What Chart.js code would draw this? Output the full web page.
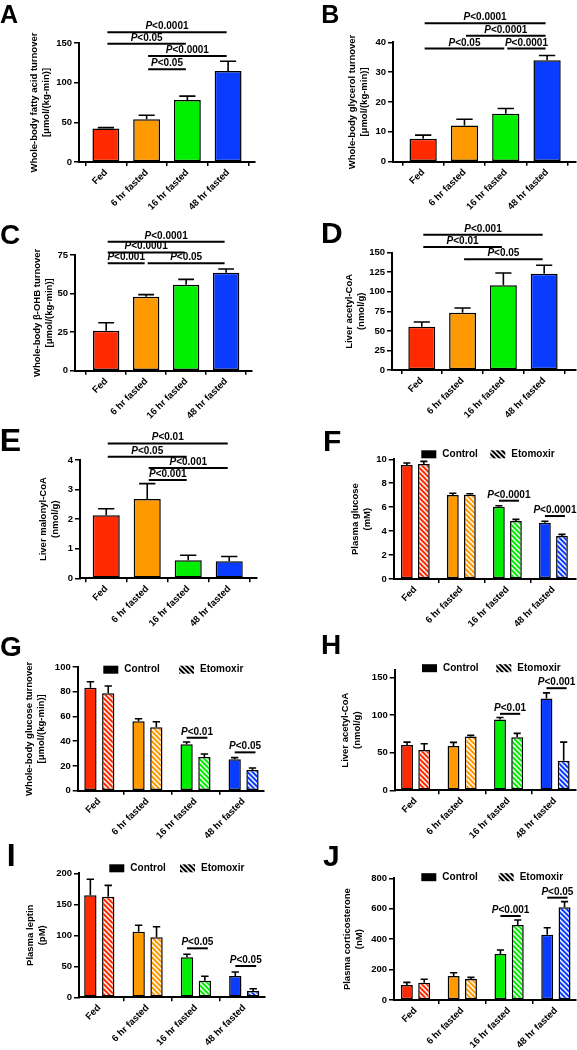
<!DOCTYPE html>
<html>
<head>
<meta charset="utf-8">
<script src="https://cdn.jsdelivr.net/npm/chart.js@4.4.0/dist/chart.umd.min.js"></script>
<style>
body { margin: 0; width: 577px; height: 1050px; position: relative; overflow: hidden; background: #fff; font-family: 'Liberation Sans', Arial, sans-serif; }
canvas { position: absolute; }
.panel-letter { position: absolute; font-weight: bold; line-height: 1; color: #000; }
</style>
</head>
<body>
<script>
const groups = ['Fed', '6 hr fasted', '16 hr fasted', '48 hr fasted'];
const groupColors = ['#ff2a00', '#ff9900', '#00ee00', '#0a3cff'];
const seriesNames = ['Control', 'Etomoxir'];

// A - fatty acid turnover
const faTurnover = [42.3, 53.8, 78.0, 114.7];
const faTurnoverSem = [1.0, 5.2, 5.0, 12.3];
const faTurnoverP = [[0, 3, 163.5, 'P<0.0001'], [0, 2, 149, 'P<0.05'], [1, 3, 133.6, 'P<0.0001'], [1, 2, 116.8, 'P<0.05']];

// B - glycerol turnover
const glycerolTurnover = [7.7, 12.1, 16.1, 34.0];
const glycerolTurnoverSem = [1.2, 2.1, 1.7, 1.6];
const glycerolTurnoverP = [[0, 3, 46.4, 'P<0.0001'], [1, 3, 42.2, 'P<0.0001'], [0, 2, 37.9, 'P<0.05'], [2, 3, 37.9, 'P<0.0001']];

// C - beta-OHB turnover
const bohbTurnover = [25.9, 48.0, 55.7, 63.5];
const bohbTurnoverSem = [5.2, 1.3, 3.5, 2.4];
const bohbTurnoverP = [[0, 3, 83.6, 'P<0.0001'], [0, 2, 76.7, 'P<0.0001'], [0, 1, 69.6, 'P<0.001'], [1, 3, 69.6, 'P<0.05']];

// D - liver acetyl-CoA
const acetylCoA = [55.4, 73.3, 108.3, 123.2];
const acetylCoASem = [6.0, 6.0, 15.7, 10.7];
const acetylCoAP = [[0, 3, 173, 'P<0.001'], [0, 2, 157.3, 'P<0.01'], [1, 3, 141.6, 'P<0.05']];

// E - liver malonyl-CoA
const malonylCoA = [2.13, 2.68, 0.61, 0.575];
const malonylCoASem = [0.22, 0.52, 0.17, 0.16];
const malonylCoAP = [[0, 3, 4.56, 'P<0.01'], [0, 2, 4.11, 'P<0.05'], [1, 3, 3.73, 'P<0.001'], [1, 2, 3.32, 'P<0.001']];

// F - plasma glucose
const glucoseCtrl = [9.52, 7.02, 6.04, 4.70];
const glucoseCtrlSem = [0.17, 0.14, 0.08, 0.12];
const glucoseEto = [9.60, 7.04, 4.85, 3.59];
const glucoseEtoSem = [0.23, 0.08, 0.13, 0.14];
const glucoseP = [[2, 6.54, 'P<0.0001'], [3, 5.26, 'P<0.0001']];

// G - glucose turnover
const glcTurnCtrl = [83.3, 56.1, 37.5, 25.4];
const glcTurnCtrlSem = [4.8, 2.1, 1.9, 1.3];
const glcTurnEto = [78.7, 51.3, 27.2, 16.7];
const glcTurnEtoSem = [5.9, 4.5, 2.5, 1.7];
const glcTurnP = [[2, 42.8, 'P<0.01'], [3, 31, 'P<0.05']];

// H - liver acetyl-CoA with etomoxir
const acCoACtrl = [60.1, 58.8, 94.2, 122.1];
const acCoACtrlSem = [4.0, 4.9, 2.7, 7.5];
const acCoAEto = [53.5, 71.7, 70.4, 39.3];
const acCoAEtoSem = [8.4, 1.3, 5.3, 24.8];
const acCoAP = [[2, 101.7, 'P<0.01'], [3, 135.8, 'P<0.001']];

// I - plasma leptin
const leptinCtrl = [164.5, 105.8, 64.5, 34.4];
const leptinCtrlSem = [25.8, 10.3, 4.9, 6.4];
const leptinEto = [162.3, 96.8, 26.8, 10.2];
const leptinEtoSem = [18.3, 17.1, 7.1, 3.7];
const leptinP = [[2, 79, 'P<0.05'], [3, 50.5, 'P<0.05']];

// J - plasma corticosterone
const corticoCtrl = [98.6, 157.8, 302.4, 429.4];
const corticoCtrlSem = [17.4, 21.7, 26.3, 46.0];
const corticoEto = [114, 138, 493, 609.4];
const corticoEtoSem = [22, 11, 33, 37];
const corticoP = [[2, 552, 'P<0.001'], [3, 672.6, 'P<0.05']];

const FONT = "'Liberation Sans', Arial, sans-serif";
Chart.defaults.font.family = FONT;
Chart.defaults.font.weight = 'bold';
Chart.defaults.color = '#000';
Chart.defaults.animation = false;

// white diagonal stripes over a colour
function hatch(color) {
    const s = 5;
    const tile = document.createElement('canvas');
    tile.width = s; tile.height = s;
    const c = tile.getContext('2d');
    c.fillStyle = color;
    c.fillRect(0, 0, s, s);
    c.strokeStyle = '#fff';
    c.lineWidth = 1.5;
    for (let k = -1; k <= 1; k++) {
        c.beginPath();
        c.moveTo(-1, -1 + k * s);
        c.lineTo(s + 1, s + 1 + k * s);
        c.stroke();
    }
    return c.createPattern(tile, 'repeat');
}
const blackHatch = hatch('#000');

const errorBars = {
    id: 'errorBars',
    afterDatasetsDraw(chart) {
        const ctx = chart.ctx, y = chart.scales.y;
        ctx.save();
        ctx.strokeStyle = '#000';
        ctx.lineWidth = 1.6;
        chart.data.datasets.forEach((ds, di) => {
            chart.getDatasetMeta(di).data.forEach((bar, i) => {
                const top = y.getPixelForValue(ds.data[i].y + ds.sem[i]);
                const half = bar.width * 0.3;
                ctx.beginPath();
                ctx.moveTo(bar.x, bar.y);
                ctx.lineTo(bar.x, top);
                ctx.moveTo(bar.x - half, top);
                ctx.lineTo(bar.x + half, top);
                ctx.stroke();
            });
        });
        ctx.restore();
    }
};

const sigBars = {
    id: 'sigBars',
    afterDraw(chart, args, opts) {
        const items = opts.items || [];
        const ctx = chart.ctx, x = chart.scales.x, y = chart.scales.y;
        ctx.save();
        ctx.strokeStyle = '#000';
        ctx.fillStyle = '#000';
        ctx.lineWidth = 2;
        items.forEach(it => {
            let x1, x2, level, label;
            if (opts.paired) {
                [, level, label] = it;
                x1 = chart.getDatasetMeta(0).data[it[0]].x;
                x2 = chart.getDatasetMeta(1).data[it[0]].x + 3;
            } else {
                [, , level, label] = it;
                x1 = x.getPixelForValue(it[0]) + 1.5;
                x2 = x.getPixelForValue(it[1]) - 1.5;
            }
            const py = y.getPixelForValue(level);
            ctx.beginPath();
            ctx.moveTo(x1, py);
            ctx.lineTo(x2, py);
            ctx.stroke();
            ctx.textBaseline = 'alphabetic';
            ctx.textAlign = 'left';
            ctx.font = 'italic bold 10px ' + FONT;
            const wP = ctx.measureText('P').width;
            ctx.font = 'bold 10px ' + FONT;
            const rest = label.slice(1);
            const wR = ctx.measureText(rest).width;
            const sx = (x1 + x2) / 2 - (wP + wR) / 2;
            ctx.fillText(rest, sx + wP, py - 3);
            ctx.font = 'italic bold 10px ' + FONT;
            ctx.fillText('P', sx, py - 3);
        });
        ctx.restore();
    }
};

const pairLegend = {
    id: 'pairLegend',
    afterDraw(chart, args, opts) {
        if (!opts.xs) return;
        const ctx = chart.ctx, a = chart.chartArea;
        const cy = a.top + opts.dy;
        ctx.save();
        seriesNames.forEach((name, i) => {
            const bx = a.left + opts.xs[i];
            ctx.fillStyle = i ? blackHatch : '#000';
            ctx.fillRect(bx, cy - 4, 15, 8);
            ctx.fillStyle = '#000';
            ctx.font = 'bold 10px ' + FONT;
            ctx.textBaseline = 'middle';
            ctx.textAlign = 'left';
            ctx.fillText(name, bx + 21, cy);
        });
        ctx.restore();
    }
};

const umol = '[\u03bcmol/(kg-min)]';
const panels = [
    { title: ['Whole-body fatty acid turnover', umol], values: faTurnover, sem: faTurnoverSem, sig: faTurnoverP,
      yMax: 150, yStep: 50, col: 0, area: [79, 43, 255, 162], xr: [-0.66, 3.66], titleX: 34 },
    { title: ['Whole-body glycerol turnover', umol], values: glycerolTurnover, sem: glycerolTurnoverSem, sig: glycerolTurnoverP,
      yMax: 40, yStep: 10, col: 1, area: [393, 42.3, 576, 161.7], xr: [-0.73, 3.70], titleX: 352 },
    { title: ['Whole-body \u03b2-OHB turnover', umol], values: bohbTurnover, sem: bohbTurnoverSem, sig: bohbTurnoverP,
      yMax: 75, yStep: 25, col: 0, area: [75, 255, 251.7, 370.7], xr: [-0.78, 3.64], titleX: 37.5 },
    { title: ['Liver acetyl-CoA', '(nmol/g)'], values: acetylCoA, sem: acetylCoASem, sig: acetylCoAP,
      yMax: 150, yStep: 25, col: 1, area: [392, 252.7, 576, 370], xr: [-0.73, 3.78], titleX: 349 },
    { title: ['Liver malonyl-CoA', '(nmol/g)'], values: malonylCoA, sem: malonylCoASem, sig: malonylCoAP,
      yMax: 4, yStep: 1, col: 0, area: [80, 460, 256.7, 578.3], xr: [-0.64, 3.67], titleX: 43 },
    { title: ['Plasma glucose', '(mM)'], control: glucoseCtrl, controlSem: glucoseCtrlSem, eto: glucoseEto, etoSem: glucoseEtoSem, sig: glucoseP,
      yMax: 10, yStep: 2, col: 1, area: [393.7, 459.3, 576, 579], xr: [-0.47, 3.49], titleX: 355, legend: { dy: -5, xs: [27.6, 96.6] } },
    { title: ['Whole-body glucose turnover', umol], control: glcTurnCtrl, controlSem: glcTurnCtrlSem, eto: glcTurnEto, etoSem: glcTurnEtoSem, sig: glcTurnP,
      yMax: 100, yStep: 20, col: 0, area: [77.7, 667, 263.3, 790.7], xr: [-0.45, 3.41], titleX: 29, legend: { dy: 2.7, xs: [25.6, 101.3] } },
    { title: ['Liver acetyl-CoA', '(nmol/g)'], control: acCoACtrl, controlSem: acCoACtrlSem, eto: acCoAEto, etoSem: acCoAEtoSem, sig: acCoAP,
      yMax: 160, yStep: 50, col: 1, area: [394.7, 670, 576, 790.3], xr: [-0.45, 3.45], titleX: 345.5, legend: { dy: -1.8, xs: [27.3, 101.6] } },
    { title: ['Plasma leptin', '(pM)'], control: leptinCtrl, controlSem: leptinCtrlSem, eto: leptinEto, etoSem: leptinEtoSem, sig: leptinP,
      yMax: 200, yStep: 50, col: 0, area: [79, 873.3, 265, 997.3], xr: [-0.42, 3.43], titleX: 30, legend: { dy: -5, xs: [30.3, 101] } },
    { title: ['Plasma corticosterone', '(nM)'], control: corticoCtrl, controlSem: corticoCtrlSem, eto: corticoEto, etoSem: corticoEtoSem, sig: corticoP,
      yMax: 800, yStep: 200, col: 1, area: [394, 878.3, 576, 1000], xr: [-0.46, 3.43], titleX: 347, legend: { dy: -1.1, xs: [27.3, 104.7] } }
];

const letters = [['A', 0, 5, 25], ['B', 323, 5, 25], ['C', 2, 225, 28], ['D', 323, 222, 30], ['E', 2, 428, 32],
                 ['F', 325, 430, 30], ['G', 2, 637, 28], ['H', 323, 635, 28], ['I', 9, 843, 32], ['J', 325, 845, 30]];

const points = vals => vals.map((v, i) => ({ x: i, y: v }));

function makeChart(p) {
    const colX = p.col ? 288 : 0, colW = p.col ? 289 : 288;
    const [aL, aT, aR, aB] = p.area;
    const cellY = Math.round(aT - 45);
    const cellH = Math.round(aB - cellY + 62);
    const cv = document.createElement('canvas');
    cv.width = colW;
    cv.height = cellH;
    cv.style.left = colX + 'px';
    cv.style.top = cellY + 'px';
    document.body.appendChild(cv);

    const titleLH = 9.5 * 1.3;
    const padLeft = p.titleX - colX - titleLH / 2;
    const yW = aL - colX - padLeft;
    const padRight = colX + colW - aR;
    const xH = cellH - (aB - cellY);

    let datasets;
    if (p.values) {
        datasets = [{
            data: points(p.values),
            sem: p.sem,
            backgroundColor: groupColors,
            borderColor: '#000',
            borderWidth: 1.5,
            borderSkipped: false,
            barPercentage: 0.66,
            categoryPercentage: 1
        }];
    } else {
        datasets = [{
            label: seriesNames[0],
            data: points(p.control),
            sem: p.controlSem,
            backgroundColor: groupColors,
            borderColor: '#000',
            borderWidth: 1.5,
            borderSkipped: false,
            barPercentage: 0.69,
            categoryPercentage: 0.74
        }, {
            label: seriesNames[1],
            data: points(p.eto),
            sem: p.etoSem,
            backgroundColor: groupColors.map(hatch),
            borderColor: '#000',
            borderWidth: 1.5,
            borderSkipped: false,
            barPercentage: 0.69,
            categoryPercentage: 0.74
        }];
    }

    return new Chart(cv, {
        type: 'bar',
        data: { datasets: datasets },
        plugins: [errorBars, sigBars, pairLegend],
        options: {
            responsive: false,
            layout: { padding: { left: padLeft, right: padRight, top: aT - cellY, bottom: 0 } },
            scales: {
                x: {
                    type: 'linear',
                    min: p.xr[0],
                    max: p.xr[1],
                    offset: false,
                    grid: { display: true, drawOnChartArea: false, drawTicks: true, tickLength: 4, color: '#000', lineWidth: 1.5 },
                    border: { color: '#000', width: 2 },
                    ticks: {
                        stepSize: 1,
                        includeBounds: false,
                        autoSkip: false,
                        minRotation: 45,
                        maxRotation: 45,
                        padding: 1,
                        font: { size: 9.5, weight: 'bold' },
                        callback: v => groups[Math.round(v)]
                    },
                    afterBuildTicks: s => {
                        s.ticks = s.ticks.filter(t => Math.abs(t.value - Math.round(t.value)) < 1e-6 && t.value > -0.5 && t.value < groups.length - 0.5);
                    },
                    afterFit: s => { s.height = xH; }
                },
                y: {
                    min: 0,
                    max: p.yMax,
                    grid: { drawOnChartArea: false, tickLength: 5, color: '#000', lineWidth: 1.5 },
                    border: { color: '#000', width: 2 },
                    ticks: { stepSize: p.yStep, includeBounds: false, padding: 2, font: { size: 9.5, weight: 'bold' } },
                    title: { display: true, text: p.title, font: { size: 9.5, weight: 'bold', lineHeight: 1.3 }, padding: 0 },
                    afterFit: s => { s.width = yW; }
                }
            },
            plugins: {
                legend: { display: false },
                tooltip: { enabled: false },
                sigBars: { items: p.sig, paired: !p.values },
                pairLegend: p.legend || {}
            }
        }
    });
}

panels.forEach(makeChart);

letters.forEach(([txt, x, y, size]) => {
    const d = document.createElement('div');
    d.className = 'panel-letter';
    d.textContent = txt;
    d.style.fontSize = size + 'px';
    d.style.left = (x - (txt === 'A' ? 0 : 0.07 * size)) + 'px';
    d.style.top = (y - 0.13 * size) + 'px';
    document.body.appendChild(d);
});
</script>
</body>
</html>
